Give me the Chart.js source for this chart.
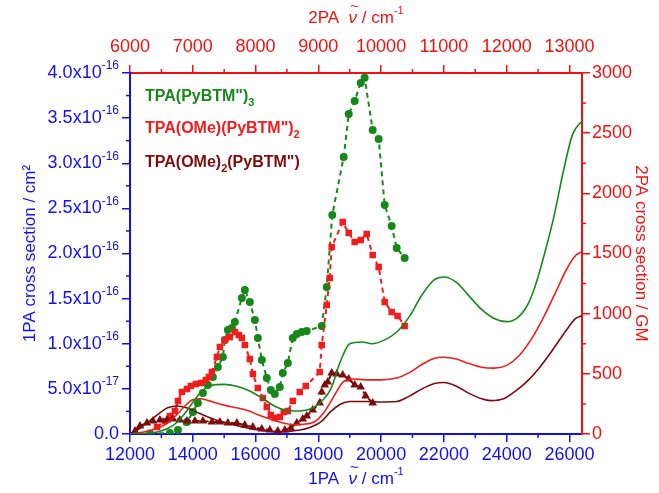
<!DOCTYPE html>
<html>
<head>
<meta charset="utf-8">
<script src="https://cdn.jsdelivr.net/npm/chart.js@4.4.0/dist/chart.umd.min.js"></script>
<style>
html, body { margin: 0; padding: 0; background: #fff; }
</style>
</head>
<body>
<canvas id="spectra" width="659" height="493"></canvas>
<script>
// 1PA cross sections are written in units of 1e-16 cm^2
const SIGMA_UNIT = 1e-16;

// TPA(PyBTM")3
const tpa3Nu = [12000, 12500, 12900, 13200, 13500, 13750, 14000, 14300, 14600, 15000, 15400, 15800, 16200, 16600, 17000, 17400, 17800, 18100, 18400, 18700, 19000, 19400, 19700, 20100, 20500, 20900, 21300, 21700, 22000, 22400, 22800, 23200, 23600, 24000, 24350, 24650, 24900, 25200, 25500, 25800, 26100, 26400];
const tpa3Sigma = [0, 0.005, 0.025, 0.06, 0.13, 0.23, 0.35, 0.48, 0.54, 0.55, 0.53, 0.48, 0.40, 0.31, 0.26, 0.255, 0.285, 0.36, 0.50, 0.80, 1.0, 1.02, 1.0, 1.04, 1.13, 1.30, 1.54, 1.71, 1.74, 1.68, 1.53, 1.38, 1.28, 1.245, 1.29, 1.42, 1.63, 1.99, 2.40, 2.90, 3.32, 3.47];
const tpa3Nu2 = [6318, 6636, 6764, 6907, 7002, 7082, 7161, 7241, 7320, 7400, 7479, 7511, 7559, 7623, 7670, 7782, 7829, 7909, 7989, 8036, 8100, 8179, 8243, 8307, 8386, 8434, 8514, 8593, 8657, 8736, 8816, 9054, 9134, 9222, 9404, 9484, 9579, 9675, 9738, 9866, 9961, 10057, 10168, 10248, 10375];
const tpa3GM = [5, 8, 33, 100, 183, 258, 341, 407, 474, 557, 640, 781, 864, 881, 931, 1130, 1197, 1097, 947, 798, 615, 465, 366, 332, 391, 507, 590, 798, 831, 848, 856, 897, 1222, 1820, 2302, 2659, 2767, 2917, 2960, 2526, 2451, 1903, 1728, 1546, 1463];

// TPA(OMe)(PyBTM")2
const omeNu = [12000, 12400, 12700, 13100, 13450, 13750, 14000, 14250, 14600, 15000, 15400, 15750, 16100, 16500, 16900, 17200, 17600, 17900, 18200, 18500, 18800, 19100, 19500, 20000, 20500, 20900, 21300, 21700, 22000, 22400, 22800, 23200, 23600, 24000, 24400, 24800, 25200, 25600, 25900, 26200, 26400];
const omeSigma = [0, 0.02, 0.045, 0.10, 0.20, 0.31, 0.38, 0.39, 0.36, 0.32, 0.29, 0.26, 0.21, 0.16, 0.12, 0.105, 0.11, 0.14, 0.25, 0.42, 0.58, 0.61, 0.60, 0.60, 0.62, 0.68, 0.77, 0.84, 0.85, 0.83, 0.78, 0.74, 0.73, 0.76, 0.87, 1.06, 1.31, 1.60, 1.82, 1.98, 2.02];
const omeNu2 = [6430, 6557, 6636, 6716, 6764, 6827, 6907, 6970, 7050, 7129, 7209, 7257, 7304, 7384, 7432, 7511, 7591, 7670, 7734, 7782, 7829, 7909, 7957, 8036, 8116, 8179, 8243, 8307, 8386, 8450, 8514, 8593, 8704, 8800, 9022, 9054, 9134, 9181, 9213, 9388, 9484, 9579, 9675, 9770, 9866, 9961, 10057, 10168, 10263, 10375];
const omeGM = [58, 108, 150, 191, 274, 349, 374, 399, 416, 424, 449, 474, 515, 640, 723, 781, 806, 848, 823, 798, 740, 623, 499, 382, 299, 224, 158, 133, 141, 183, 191, 274, 349, 399, 515, 740, 1072, 1296, 1554, 1762, 1670, 1596, 1612, 1662, 1487, 1388, 1097, 1014, 981, 897];

// TPA(OMe)2(PyBTM")
const ome2Nu = [12000, 12300, 12600, 12900, 13200, 13500, 13800, 14200, 14700, 15200, 15700, 16200, 16700, 17200, 17700, 18100, 18400, 18700, 19000, 19500, 20000, 20500, 20900, 21300, 21700, 22000, 22400, 22800, 23200, 23500, 23900, 24300, 24700, 25100, 25500, 25900, 26200, 26400];
const ome2Sigma = [0, 0.06, 0.14, 0.22, 0.29, 0.31, 0.29, 0.23, 0.16, 0.11, 0.07, 0.04, 0.025, 0.035, 0.07, 0.14, 0.25, 0.33, 0.36, 0.36, 0.355, 0.36, 0.42, 0.50, 0.56, 0.57, 0.53, 0.45, 0.39, 0.37, 0.39, 0.48, 0.60, 0.76, 0.95, 1.15, 1.28, 1.31];
const ome2Nu2 = [6080, 6159, 6270, 6366, 6477, 6589, 6684, 6795, 6907, 7034, 7161, 7304, 7432, 7559, 7702, 7829, 7957, 8100, 8227, 8354, 8466, 8561, 8657, 8752, 8816, 8911, 9022, 9054, 9102, 9150, 9213, 9293, 9388, 9484, 9579, 9675, 9754, 9866];
const ome2GM = [25, 66, 91, 108, 116, 116, 125, 116, 108, 108, 108, 100, 100, 91, 91, 75, 58, 42, 33, 25, 33, 50, 91, 125, 150, 199, 258, 349, 407, 432, 507, 499, 490, 457, 407, 391, 316, 258];

// axis ticks
const nu1Ticks = [12000, 14000, 16000, 18000, 20000, 22000, 24000, 26000];
const nu2Ticks = [6000, 7000, 8000, 9000, 10000, 11000, 12000, 13000];
const sigmaTicks = [0, 0.5, 1.0, 1.5, 2.0, 2.5, 3.0, 3.5, 4.0]; // x SIGMA_UNIT
const gmTicks = [0, 500, 1000, 1500, 2000, 2500, 3000];

// legend text: [text, subscript?]
const legendLabels = [
    [['TPA(PyBTM")', false], ['3', true]],
    [['TPA(OMe)(PyBTM")', false], ['2', true]],
    [['TPA(OMe)', false], ['2', true], ['(PyBTM")', false]]
];

const GREEN = '#17881a';
const RED = '#f21c1c';
const DARKRED = '#7d0c0c';
const BLUE = '#1010f0';
const AXISRED = '#f51010';
const FONT = '"Liberation Sans", Arial, sans-serif';

function pts(xs, ys, k) {
    return xs.map((x, i) => ({ x: x, y: ys[i] * k }));
}

function setTicks(values) {
    return scale => { scale.ticks = values.map(v => ({ value: v })); };
}

const minorTicks = {
    id: 'minorTicks',
    afterDraw(chart) {
        const ctx = chart.ctx;
        const a = chart.chartArea;
        const specs = [
            { id: 'x', step: 1000, color: BLUE, side: 'bottom' },
            { id: 'x2', step: 500, color: AXISRED, side: 'top' },
            { id: 'y', step: 0.25e-16, color: BLUE, side: 'left' },
            { id: 'y2', step: 250, color: AXISRED, side: 'right' }
        ];
        ctx.save();
        ctx.lineWidth = 1.5;
        specs.forEach(s => {
            const sc = chart.scales[s.id];
            ctx.strokeStyle = s.color;
            const n = Math.floor((sc.max - sc.min) / s.step + 1e-6);
            for (let i = 1; i <= n; i += 2) {
                const p = sc.getPixelForValue(sc.min + i * s.step);
                ctx.beginPath();
                if (s.side === 'bottom') { ctx.moveTo(p, a.bottom); ctx.lineTo(p, a.bottom + 4); }
                if (s.side === 'top') { ctx.moveTo(p, a.top); ctx.lineTo(p, a.top - 4); }
                if (s.side === 'left') { ctx.moveTo(a.left, p); ctx.lineTo(a.left - 4, p); }
                if (s.side === 'right') { ctx.moveTo(a.right, p); ctx.lineTo(a.right + 4, p); }
                ctx.stroke();
            }
        });
        ctx.restore();
    }
};

// text pieces drawn by hand: subscripts, superscripts and the tilde over nu
function drawRuns(ctx, runs, x, y, align) {
    let w = 0;
    runs.forEach(r => { ctx.font = r.font; w += ctx.measureText(r.t).width; });
    let cx = align === 'right' ? x - w : align === 'center' ? x - w / 2 : x;
    runs.forEach(r => {
        ctx.font = r.font;
        const tw = ctx.measureText(r.t).width;
        ctx.fillText(r.t, cx, y + (r.dy || 0));
        if (r.tilde) {
            ctx.font = '15px ' + FONT;
            const tl = ctx.measureText('~').width;
            ctx.fillText('~', cx + tw / 2 - tl / 2 + 1.5, y - 11);
        }
        cx += tw;
    });
}

const textLayer = {
    id: 'textLayer',
    afterDraw(chart) {
        const ctx = chart.ctx;
        const a = chart.chartArea;
        const ys = chart.scales.y;
        ctx.save();
        ctx.textBaseline = 'middle';

        // legend inside the plot
        const colors = [GREEN, RED, DARKRED];
        const rows = [24, 56, 90];
        legendLabels.forEach((segs, r) => {
            ctx.fillStyle = colors[r];
            drawRuns(ctx, segs.map(([t, sub]) => ({
                t: t, font: sub ? 'bold 11px ' + FONT : 'bold 16px ' + FONT, dy: sub ? 6 : 0
            })), a.left + 15, a.top + rows[r], 'left');
        });

        // left tick labels  m.mx10^e
        ctx.fillStyle = BLUE;
        sigmaTicks.forEach(v => {
            const val = v * SIGMA_UNIT;
            const py = ys.getPixelForValue(val);
            if (v === 0) {
                drawRuns(ctx, [{ t: '0.0', font: '18px ' + FONT }], a.left - 11, py, 'right');
                return;
            }
            const parts = val.toExponential(1).split('e');
            drawRuns(ctx, [
                { t: parts[0] + 'x10', font: '18px ' + FONT },
                { t: String(parseInt(parts[1], 10)), font: '12px ' + FONT, dy: -7 }
            ], a.left - 11, py, 'right');
        });

        // top and bottom axis titles
        const cx = (a.left + a.right) / 2;
        const nuRuns = lead => [
            { t: lead + '  ', font: '17px ' + FONT },
            { t: '\u03BD', font: 'italic 17px ' + FONT, tilde: true },
            { t: ' / cm', font: '17px ' + FONT },
            { t: '-1', font: '11px ' + FONT, dy: -7 }
        ];
        ctx.fillStyle = BLUE;
        drawRuns(ctx, nuRuns('1PA'), cx, 479, 'center');
        ctx.fillStyle = AXISRED;
        drawRuns(ctx, nuRuns('2PA'), cx, 18, 'center');
        ctx.restore();
    }
};

function axis(color, pos, min, max, ticks, extra) {
    return Object.assign({
        type: 'linear',
        position: pos,
        min: min,
        max: max,
        afterBuildTicks: setTicks(ticks),
        border: { display: true, color: color, width: 2 },
        grid: { drawOnChartArea: false, drawTicks: true, tickLength: 8, color: color, lineWidth: 1.5 },
        ticks: { color: color, font: { family: FONT, size: 18 }, padding: 2, autoSkip: false, maxRotation: 0, callback: v => String(v) }
    }, extra);
}

new Chart(document.getElementById("spectra"), {
    type: 'line',
    data: {
        datasets: [{
            label: 'TPA(PyBTM")3 1PA',
            data: pts(tpa3Nu, tpa3Sigma, SIGMA_UNIT),
            xAxisID: 'x', yAxisID: 'y',
            borderColor: GREEN, borderWidth: 1.6, pointRadius: 0,
            cubicInterpolationMode: 'monotone', fill: false
        }, {
            label: 'TPA(OMe)(PyBTM")2 1PA',
            data: pts(omeNu, omeSigma, SIGMA_UNIT),
            xAxisID: 'x', yAxisID: 'y',
            borderColor: RED, borderWidth: 1.6, pointRadius: 0,
            cubicInterpolationMode: 'monotone', fill: false
        }, {
            label: 'TPA(OMe)2(PyBTM") 1PA',
            data: pts(ome2Nu, ome2Sigma, SIGMA_UNIT),
            xAxisID: 'x', yAxisID: 'y',
            borderColor: DARKRED, borderWidth: 1.6, pointRadius: 0,
            cubicInterpolationMode: 'monotone', fill: false
        }, {
            label: 'TPA(OMe)2(PyBTM") 2PA',
            data: pts(ome2Nu2, ome2GM, 1),
            xAxisID: 'x2', yAxisID: 'y2',
            borderColor: DARKRED, borderWidth: 2, borderDash: [5, 4],
            pointStyle: 'triangle', pointRadius: 3, pointBackgroundColor: DARKRED, pointBorderColor: DARKRED,
            fill: false
        }, {
            label: 'TPA(OMe)(PyBTM")2 2PA',
            data: pts(omeNu2, omeGM, 1),
            xAxisID: 'x2', yAxisID: 'y2',
            borderColor: RED, borderWidth: 2, borderDash: [5, 4],
            pointStyle: 'rect', pointRadius: 3.2, pointBackgroundColor: RED, pointBorderColor: RED,
            fill: false
        }, {
            label: 'TPA(PyBTM")3 2PA',
            data: pts(tpa3Nu2, tpa3GM, 1),
            xAxisID: 'x2', yAxisID: 'y2',
            borderColor: GREEN, borderWidth: 2, borderDash: [5, 4],
            pointStyle: 'circle', pointRadius: 3, pointBackgroundColor: GREEN, pointBorderColor: GREEN,
            fill: false
        }]
    },
    options: {
        responsive: false,
        animation: false,
        layout: { padding: 0 },
        plugins: { legend: { display: false }, tooltip: { enabled: false } },
        scales: {
            x: axis(BLUE, 'bottom', 12000, 26400, nu1Ticks, {
                afterFit: s => { s.height = 59; }
            }),
            x2: axis(AXISRED, 'top', 6000, 13200, nu2Ticks, {
                ticks: { color: AXISRED, font: { family: FONT, size: 18 }, padding: 7, autoSkip: false, maxRotation: 0, callback: v => String(v) },
                afterFit: s => { s.height = 73; }
            }),
            y: axis(BLUE, 'left', 0, 4 * SIGMA_UNIT, sigmaTicks.map(v => v * SIGMA_UNIT), {
                ticks: { display: false },
                title: { display: true, text: '1PA cross section / cm\u00B2', color: BLUE, font: { family: FONT, size: 17 }, padding: { top: 20, bottom: 0 } },
                afterFit: s => { s.width = 130; }
            }),
            y2: axis(AXISRED, 'right', 0, 3000, gmTicks, {
                title: { display: true, text: '2PA cross section / GM', color: AXISRED, font: { family: FONT, size: 17 }, padding: { top: 8, bottom: 0 } },
                afterFit: s => { s.width = 77; }
            })
        }
    },
    plugins: [minorTicks, textLayer]
});
</script>
</body>
</html>
